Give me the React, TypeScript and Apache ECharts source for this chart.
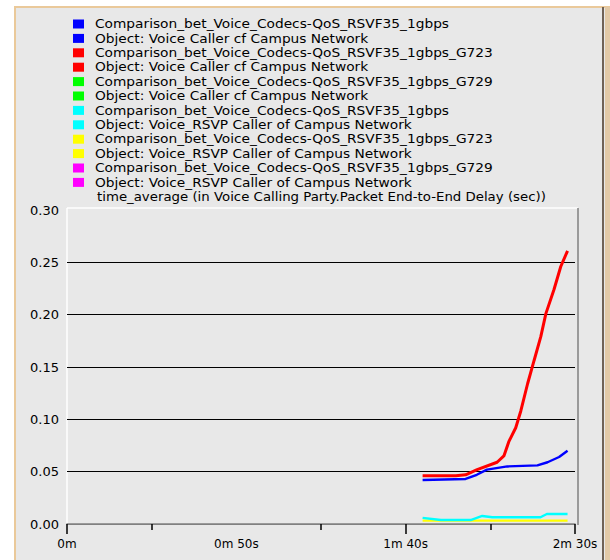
import React, { useEffect, useRef } from "react";
import * as echarts from "echarts";

const seriesColors = ["#0000ff", "#ff0000", "#00ff00", "#00ffff", "#ffff00", "#ff00ff"];
const scenarioNames = [
  "Comparison_bet_Voice_Codecs-QoS_RSVF35_1gbps",
  "Comparison_bet_Voice_Codecs-QoS_RSVF35_1gbps_G723",
  "Comparison_bet_Voice_Codecs-QoS_RSVF35_1gbps_G729",
  "Comparison_bet_Voice_Codecs-QoS_RSVF35_1gbps",
  "Comparison_bet_Voice_Codecs-QoS_RSVF35_1gbps_G723",
  "Comparison_bet_Voice_Codecs-QoS_RSVF35_1gbps_G729",
];
const objectNames = [
  "Object: Voice Caller cf Campus Network",
  "Object: Voice Caller cf Campus Network",
  "Object: Voice Caller cf Campus Network",
  "Object: Voice_RSVP Caller of Campus Network",
  "Object: Voice_RSVP Caller of Campus Network",
  "Object: Voice_RSVP Caller of Campus Network",
];
const statLabel = "time_average (in Voice Calling Party.Packet End-to-End Delay (sec))";

// time in seconds, delay in seconds
const blueData = [
  [105, 0.042], [117.7, 0.043], [121, 0.047], [124, 0.052], [130, 0.055],
  [138.9, 0.056], [141.9, 0.059], [145.3, 0.064], [147.8, 0.07],
];
const redData = [
  [105, 0.046], [114.8, 0.046], [117.7, 0.047], [121.1, 0.052], [127, 0.059],
  [129, 0.065], [130.5, 0.079], [132.5, 0.092], [134, 0.108], [136, 0.134],
  [137.9, 0.156], [139.9, 0.179], [141.4, 0.201], [143.8, 0.224], [145.8, 0.246],
  [147.8, 0.261],
];
const greenData: number[][] = [];
const cyanData = [
  [105, 0.0058], [110.4, 0.0038], [119.2, 0.0038], [122.6, 0.0077], [125.6, 0.0064],
  [139.8, 0.0064], [141.7, 0.0096], [147.8, 0.0096],
];
const yellowData = [
  [105, 0.0032], [147.8, 0.0032],
];
const magentaData: number[][] = [];
const allData = [blueData, redData, greenData, cyanData, yellowData, magentaData];
const lineWidths = [2.4, 3, 2.2, 2.4, 2.4, 2.2];

const xTickValues = [0, 50, 100, 150];
const xTickLabels = ["0m", "0m 50s", "1m 40s", "2m 30s"];
const xMajorTicks = [0, 100, 150];
const xMinorTicks = [25, 75, 125];

const FONT = "DejaVu Sans";

export default function App() {
  const ref = useRef<HTMLDivElement>(null);
  useEffect(() => {
    if (!ref.current) return;
    const chart = echarts.init(ref.current, null, { renderer: "svg" });

    const legendEls: any[] = [];
    const rowY0 = 24;
    const rowH = 14.4;
    const textStyle = {
      fill: "#000",
      font: `12.5px '${FONT}'`,
      lineHeight: 13,
      textVerticalAlign: "middle",
    };
    let row = 0;
    for (let i = 0; i < seriesColors.length; i++) {
      for (const label of [scenarioNames[i], objectNames[i]]) {
        const cy = rowY0 + rowH * row;
        legendEls.push({
          type: "rect",
          shape: { x: 73, y: cy - 4.5, width: 11, height: 9 },
          style: { fill: seriesColors[i] },
        });
        legendEls.push({
          type: "text",
          x: 95,
          y: cy,
          scaleX: 1.1,
          style: { ...textStyle, text: label },
        });
        row++;
      }
    }
    legendEls.push({
      type: "text",
      x: 97,
      y: rowY0 + rowH * row,
      scaleX: 1.065,
      style: { ...textStyle, text: statLabel },
    });

    const baseX = {
      type: "value",
      min: 0,
      max: 150,
      position: "bottom",
      splitLine: { show: false },
    };

    chart.setOption({
      animation: false,
      backgroundColor: "#ffffff",
      graphic: [
        {
          type: "rect",
          z: -10,
          shape: { x: 15, y: 7, width: 600, height: 560 },
          style: { fill: "#e8e8e8", stroke: "#eac99a", lineWidth: 2 },
        },
        {
          type: "line",
          z: -5,
          shape: { x1: 603, y1: 7, x2: 603, y2: 560 },
          style: { stroke: "#6f6256", lineWidth: 2 },
        },
        {
          type: "rect",
          z: -5,
          shape: { x: 605, y: 7, width: 6, height: 560 },
          style: { fill: "#e2c9a6" },
        },
        {
          type: "line",
          shape: { x1: 67, y1: 208, x2: 578, y2: 208 },
          style: { stroke: "#ffffff", lineWidth: 1.5 },
        },
        {
          type: "line",
          shape: { x1: 67, y1: 208, x2: 67, y2: 525 },
          style: { stroke: "#ffffff", lineWidth: 1.5 },
        },
        {
          type: "line",
          shape: { x1: 578, y1: 208, x2: 578, y2: 525 },
          style: { stroke: "#808080", lineWidth: 1.5 },
        },
        ...legendEls,
      ],
      grid: { left: 67, top: 210, width: 508, height: 314, containLabel: false },
      xAxis: [
        {
          ...baseX,
          interval: 50,
          axisLine: { show: true, lineStyle: { color: "#808080", width: 1.5 } },
          axisTick: {
            show: true,
            length: 10,
            customValues: xMajorTicks,
            lineStyle: { color: "#000", width: 1.5 },
          },
          axisLabel: {
            color: "#000",
            fontFamily: FONT,
            fontSize: 12,
            margin: 14,
            customValues: xTickValues,
            formatter: (v: number) => {
              const i = xTickValues.indexOf(v);
              return i >= 0 ? xTickLabels[i] : "";
            },
          },
        },
        {
          ...baseX,
          interval: 25,
          axisLine: { show: false },
          axisTick: {
            show: true,
            length: 6,
            customValues: xMinorTicks,
            lineStyle: { color: "#000", width: 1.5 },
          },
          axisLabel: { show: false },
        },
      ],
      yAxis: {
        type: "value",
        min: 0,
        max: 0.3,
        interval: 0.05,
        axisLine: { show: false },
        axisTick: { show: false },
        axisLabel: {
          color: "#000",
          fontFamily: FONT,
          fontSize: 13,
          margin: 8,
          formatter: (v: number) => v.toFixed(2),
        },
        splitLine: {
          show: true,
          lineStyle: {
            color: ["#808080", "#000", "#000", "#000", "#000", "#000", "rgba(0,0,0,0)"],
            width: 1.2,
          },
        },
      },
      series: allData.map((d, i) => ({
        type: "line",
        name: scenarioNames[i] + " " + objectNames[i],
        data: d,
        xAxisIndex: 0,
        showSymbol: false,
        symbol: "none",
        lineStyle: { color: seriesColors[i], width: lineWidths[i] },
        itemStyle: { color: seriesColors[i] },
        z: 10 - i,
      })),
    });
    return () => chart.dispose();
  }, []);
  return (
    <div
      ref={ref}
      style={{ position: "absolute", left: 0, top: 0, width: 610, height: 560 }}
    />
  );
}
